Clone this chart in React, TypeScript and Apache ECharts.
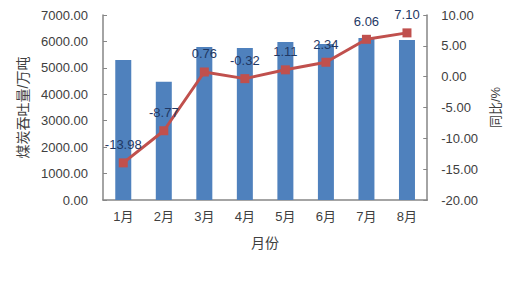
import React, { useEffect, useRef } from "react";
import * as echarts from "echarts";

const months = ["1月", "2月", "3月", "4月", "5月", "6月", "7月", "8月"];
const throughput = [5300, 4470, 5790, 5750, 5980, 5900, 6130, 6050];
const yoy = [-13.98, -8.77, 0.76, -0.32, 1.11, 2.34, 6.06, 7.1];

const FONT = "'Liberation Sans', 'Noto Sans CJK SC', sans-serif";
const AXIS = "#868686";
const TXT = "#404040";

export default function App() {
  const ref = useRef<HTMLDivElement>(null);
  useEffect(() => {
    if (!ref.current) return;
    const chart = echarts.init(ref.current, undefined, { renderer: "svg" });
    chart.setOption({
      animation: false,
      backgroundColor: "#ffffff",
      textStyle: { fontFamily: FONT },
      grid: { left: 103, right: 82, top: 15, bottom: 88 },
      xAxis: {
        type: "category",
        data: months,
        name: "月份",
        nameLocation: "middle",
        nameGap: 36,
        nameTextStyle: { color: TXT, fontSize: 14, fontFamily: FONT },
        axisLine: { lineStyle: { color: AXIS, width: 1.5 } },
        axisTick: { inside: true, length: 4, lineStyle: { color: AXIS } },
        axisLabel: { color: TXT, fontSize: 13, margin: 10, fontFamily: FONT },
      },
      yAxis: [
        {
          type: "value",
          min: 0,
          max: 7000,
          interval: 1000,
          name: "煤炭吞吐量/万吨",
          nameLocation: "middle",
          nameGap: 72,
          nameRotate: 90,
          nameTextStyle: { color: TXT, fontSize: 14, fontFamily: FONT },
          axisLine: { show: true, lineStyle: { color: AXIS, width: 1.5 } },
          axisTick: { show: true, inside: true, length: 4, lineStyle: { color: AXIS } },
          splitLine: { show: false },
          axisLabel: {
            color: TXT,
            fontSize: 13,
            margin: 15,
            fontFamily: FONT,
            formatter: (v: number) => v.toFixed(2),
          },
        },
        {
          type: "value",
          min: -20,
          max: 10,
          interval: 5,
          name: "同比/%",
          nameLocation: "middle",
          nameGap: 59,
          nameRotate: 90,
          nameTextStyle: { color: TXT, fontSize: 13, fontFamily: FONT },
          axisLine: { show: true, lineStyle: { color: AXIS, width: 1.5 } },
          axisTick: { show: true, inside: true, length: 4, lineStyle: { color: AXIS } },
          splitLine: { show: false },
          axisLabel: {
            color: TXT,
            fontSize: 13,
            margin: 14,
            fontFamily: FONT,
            formatter: (v: number) => v.toFixed(2),
          },
        },
      ],
      series: [
        {
          type: "bar",
          data: throughput,
          barWidth: 16,
          itemStyle: { color: "#4F81BD" },
        },
        {
          type: "line",
          yAxisIndex: 1,
          data: yoy,
          symbol: "rect",
          symbolSize: 9,
          lineStyle: { color: "#C0504D", width: 3 },
          itemStyle: { color: "#C0504D" },
          label: {
            show: true,
            position: "top",
            distance: 7,
            color: "#1F3864",
            fontSize: 13,
            fontFamily: FONT,
            formatter: (p: any) => Number(p.value).toFixed(2),
          },
        },
      ],
    });
    return () => chart.dispose();
  }, []);
  return (
    <div
      ref={ref}
      style={{ position: "fixed", left: 0, top: 0, width: 510, height: 288 }}
    />
  );
}
